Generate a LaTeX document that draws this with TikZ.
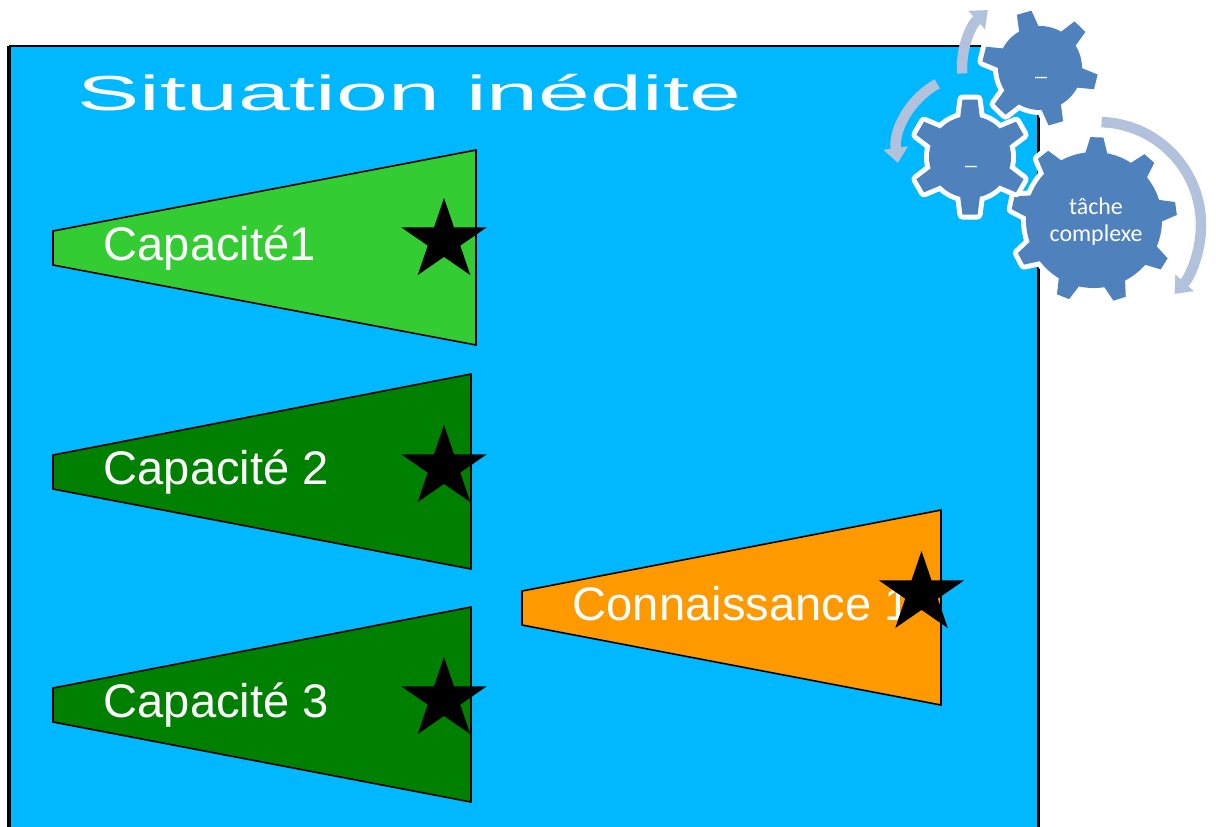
\documentclass[tikz,border=0pt]{standalone}
\usepackage{fontspec}
\setmainfont{Liberation Sans}
\newfontfamily\gearfont{Carlito}
\usetikzlibrary{calc,arrows.meta,shapes.geometric}
\definecolor{situationblue}{HTML}{00B8FF}
\definecolor{lightcapa}{HTML}{33CC33}
\definecolor{darkcapa}{HTML}{008000}
\definecolor{connorange}{HTML}{FF9900}
\definecolor{gearblue}{HTML}{4F81BD}
\definecolor{cyclearrow}{HTML}{B3C2DC}
\tikzset{
  wedge/.style={draw=black,line width=.016cm,line join=miter},
  wedgetext/.style={anchor=base west,inner sep=0pt,text=white,font=\fontsize{13.4}{16}\selectfont},
  starmark/.style={star,star points=5,star point ratio=2.618,fill=black,inner sep=0pt,minimum size=.852cm,xscale=1.05},
  geartext/.style={inner sep=0pt,text=white,align=center,font=\gearfont\fontsize{6.8}{7.5}\selectfont},
  cycle arrow/.style={draw=cyclearrow,line width=.105cm,-{Triangle[length=.15cm,width=.24cm]}},
}
% centre, body radius, tip radius, teeth, rotation, half angle at base, half angle at tip
\def\teethpath#1#2#3#4#5#6#7{
  \foreach \i [evaluate=\i as \a using #5+\i*360/#4] in {1,...,#4}
  {
    ([shift={(#1)}]\a-#6:#2-2) -- ([shift={(#1)}]\a-#7:#3)
    -- ([shift={(#1)}]\a+#7:#3) -- ([shift={(#1)}]\a+#6:#2-2) -- cycle
  }
}
\def\drawgear#1#2#3#4#5#6#7{
  \path[draw=white,line width=.1cm,line join=round] (#1) circle[radius=#2] \teethpath{#1}{#2}{#3}{#4}{#5}{#6}{#7};
  \fill[gearblue] (#1) circle[radius=#2];
  \path[fill=gearblue] \teethpath{#1}{#2}{#3}{#4}{#5}{#6}{#7};
}
\begin{document}
\begin{tikzpicture}[x=.01cm,y=-.01cm]
  \clip (0,0) rectangle (1216,826);
  \fill[white] (0,0) rectangle (1216,826);
  \fill[situationblue] (9,46) rectangle (1038,840);
  \draw[black,line width=.017cm] (9,46) -- (1038,46);
  \draw[black,line width=.03cm] (9,46) -- (9,840) (1038,46) -- (1038,840);
  \node[anchor=base west,inner sep=0pt,text=white,xscale=1.895,font=\fontsize{14}{16}\selectfont]
    (title) at (76,110) {Situation inédite};

  \foreach \x/\y/\s/\c/\n/\t in {
    476/0/0/lightcapa/capa1/{Capacité1},
    471/224/227/darkcapa/capa2/{Capacité 2},
    471/457/459/darkcapa/capa3/{Capacité 3}}
  {
    \draw[wedge,fill=\c] (53,231+\y) -- (\x,150+\y) -- (\x,345+\y) -- (53,265+\y) -- cycle;
    \node[wedgetext] (\n) at (103,260+\y) {\t};
    \node[starmark] (\n star) at (444,240.6+\s) {};
  }
  \draw[wedge,fill=connorange] (522,591) -- (941,510) -- (941,705) -- (522,625) -- cycle;
  \node[wedgetext] (conn) at (572,620) {Connaissance 1};
  \node[starmark] (conn star) at (921.5,593.6) {};

  \coordinate (bigc) at (1094,220);
  \coordinate (midc) at (970,157);
  \coordinate (topc) at (1040,68);
  \drawgear{bigc}{68}{83}{9}{-88}{10}{4.5}
  \drawgear{midc}{41}{58}{6}{-90}{15}{7.5}
  \drawgear{topc}{42}{58}{6}{-46}{15}{7.5}
  \node[geartext] (bigtext) at (1096,221.5) {tâche\\complexe};
  \node[geartext,anchor=base] (midtext) at (971,164) {\_};
  \node[geartext,anchor=base] (toptext) at (1041,75) {\_};

  \coordinate (bigfrom) at ($(1098,225)+(-88:103)$);
  \coordinate (midfrom) at ($(975,152)+(-119:78)$);
  \coordinate (topfrom) at ($(1040,68)+(-184:78)$);
  \draw[cycle arrow] (bigfrom) arc[start angle=-88,end angle=42,radius=103];
  \draw[cycle arrow] (midfrom) arc[start angle=-119,end angle=-188,radius=78];
  \draw[cycle arrow] (topfrom) arc[start angle=-184,end angle=-132,radius=78];
\end{tikzpicture}
\end{document}
